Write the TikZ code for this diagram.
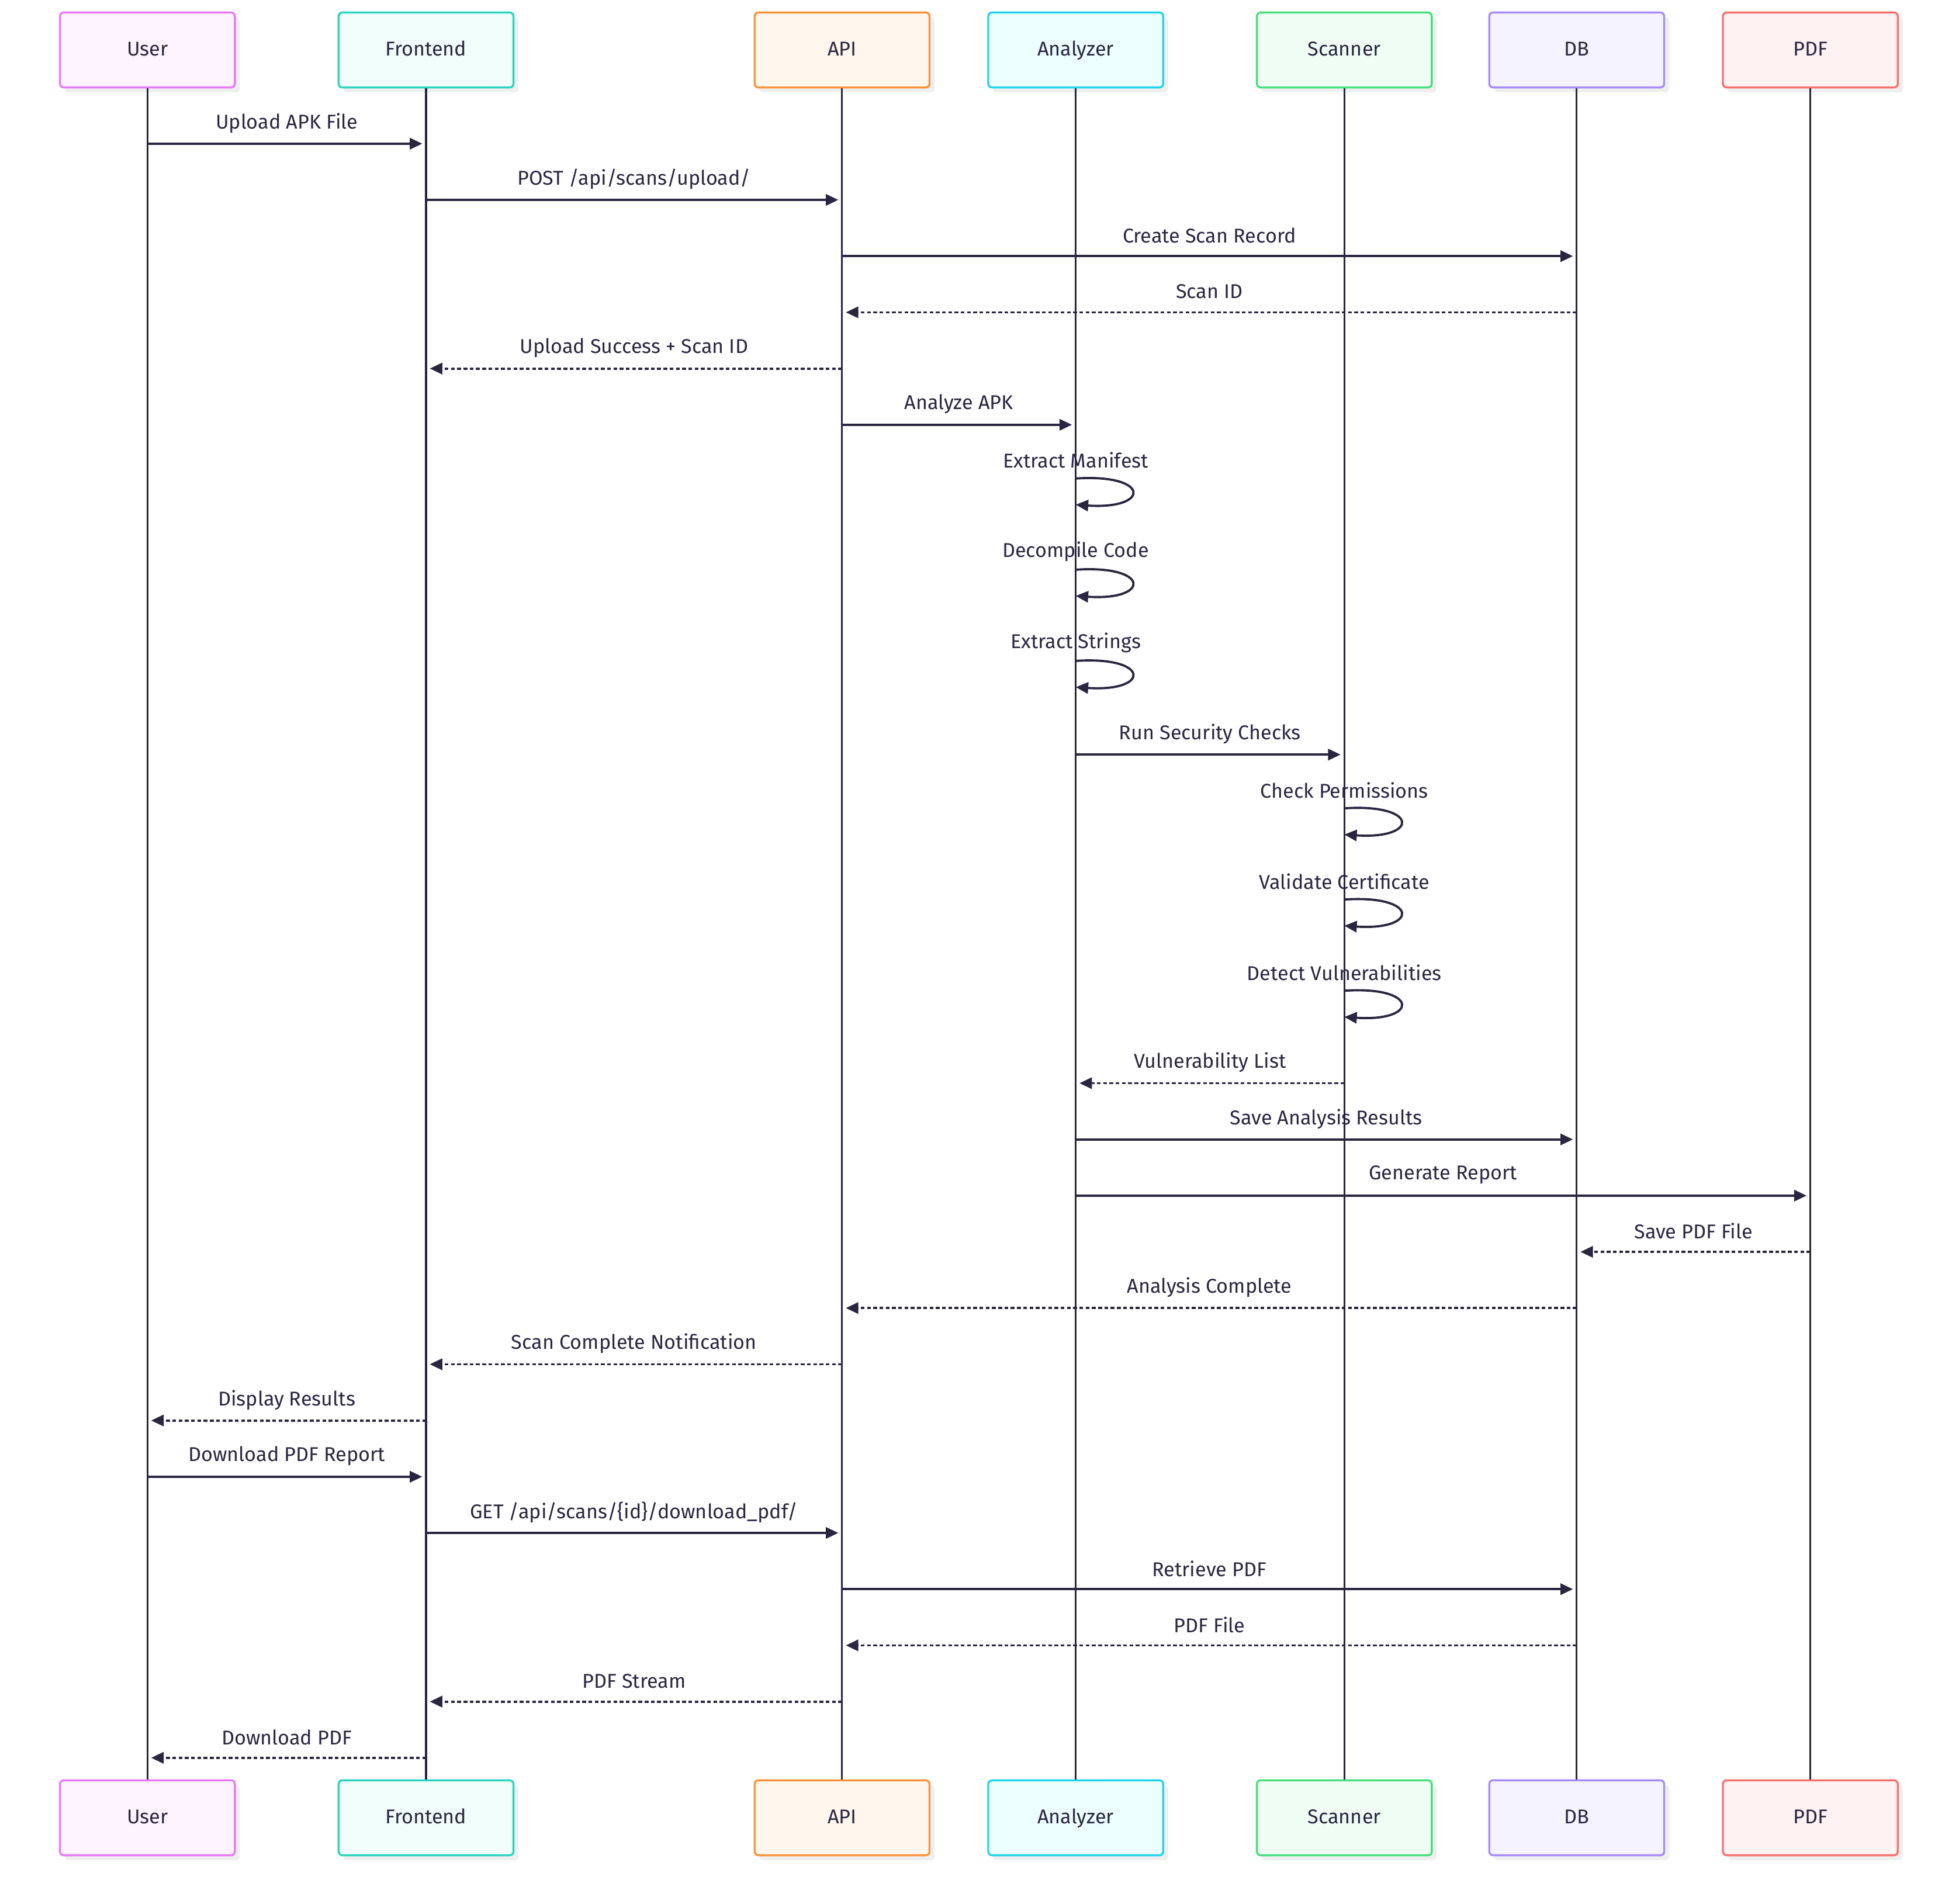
\documentclass[tikz,border=0pt]{standalone}
\usepackage{fontspec}
\setmainfont{Fira Sans}
\usetikzlibrary{arrows.meta,shadows}

\definecolor{ink}{HTML}{2A2640}
\definecolor{shade}{HTML}{EFEFEF}
\definecolor{fuchsia}{HTML}{E879F9}
\definecolor{fuchsiabg}{HTML}{FDF4FF}
\definecolor{tealb}{HTML}{2DD4BF}
\definecolor{tealbg}{HTML}{F0FDFA}
\definecolor{orangeb}{HTML}{FB923C}
\definecolor{orangebg}{HTML}{FFF7ED}
\definecolor{cyanb}{HTML}{22D3EE}
\definecolor{cyanbg}{HTML}{ECFEFF}
\definecolor{greenb}{HTML}{4ADE80}
\definecolor{greenbg}{HTML}{F0FDF4}
\definecolor{violetb}{HTML}{A78BFA}
\definecolor{violetbg}{HTML}{F5F3FF}
\definecolor{redb}{HTML}{F87171}
\definecolor{redbg}{HTML}{FEF2F2}

\tikzset{
  actor/.style={draw, rounded corners=3pt, line width=1.6pt, minimum width=140pt,
    minimum height=60pt, text=ink, font=\fontsize{16}{19}\selectfont,
    text height=11pt, text depth=2pt,
    drop shadow={shadow xshift=4pt, shadow yshift=-4pt, fill=shade, opacity=1}},
  life/.style={ink, line width=1.5pt},
  msg/.style={ink, line width=1.8pt, -{Triangle[length=10pt,width=9pt]}, shorten >=3pt},
  reply/.style={msg, dash pattern=on 3pt off 2pt},
  selfmsg/.style={ink, line width=1.8pt, -{Triangle[length=10pt,width=9pt]}},
  lbl/.style={text=ink, font=\fontsize{16}{19}\selectfont, yshift=16.5pt}
}

\begin{document}
\begin{tikzpicture}[x=1pt, y=-1pt]
\useasboundingbox (0,0) rectangle (1568,1524);
% participants (top)
\node[actor, draw=fuchsia, fill=fuchsiabg] (user) at (118,40) {User};
\node[actor, draw=tealb, fill=tealbg] (front) at (341,40) {Frontend};
\node[actor, draw=orangeb, fill=orangebg] (api) at (674,40) {API};
\node[actor, draw=cyanb, fill=cyanbg] (ana) at (861,40) {Analyzer};
\node[actor, draw=greenb, fill=greenbg] (scan) at (1076,40) {Scanner};
\node[actor, draw=violetb, fill=violetbg] (db) at (1262,40) {DB};
\node[actor, draw=redb, fill=redbg] (pdf) at (1449,40) {PDF};
% participants (bottom)
\node[actor, draw=fuchsia, fill=fuchsiabg] (userb) at (118,1455) {User};
\node[actor, draw=tealb, fill=tealbg] (frontb) at (341,1455) {Frontend};
\node[actor, draw=orangeb, fill=orangebg] (apib) at (674,1455) {API};
\node[actor, draw=cyanb, fill=cyanbg] (anab) at (861,1455) {Analyzer};
\node[actor, draw=greenb, fill=greenbg] (scanb) at (1076,1455) {Scanner};
\node[actor, draw=violetb, fill=violetbg] (dbb) at (1262,1455) {DB};
\node[actor, draw=redb, fill=redbg] (pdfb) at (1449,1455) {PDF};
% lifelines
\draw[life] (user) -- (userb);
\draw[life] (front) -- (frontb);
\draw[life] (api) -- (apib);
\draw[life] (ana) -- (anab);
\draw[life] (scan) -- (scanb);
\draw[life] (db) -- (dbb);
\draw[life] (pdf) -- (pdfb);
% upload
\draw[msg] (user |- 0,115) -- node[lbl] (m1) {Upload APK File} (front |- 0,115);
\draw[msg] (front |- 0,160) -- node[lbl] (m2) {POST /api/scans/upload/} (api |- 0,160);
\draw[msg] (api |- 0,205) -- node[lbl] (m3) {Create Scan Record} (db |- 0,205);
\draw[reply] (db |- 0,250) -- node[lbl] (m4) {Scan ID} (api |- 0,250);
\draw[reply] (api |- 0,295) -- node[lbl] (m5) {Upload Success + Scan ID} (front |- 0,295);
\draw[msg] (api |- 0,340) -- node[lbl] (m6) {Analyze APK} (ana |- 0,340);
% analyzer steps
\draw[selfmsg] (ana |- 0,383) .. controls +(60,-4) and +(60,4) .. (ana |- 0,404);
\node[lbl] (m7) at (ana |- 0,385) {Extract Manifest};
\draw[selfmsg] (ana |- 0,456) .. controls +(60,-4) and +(60,4) .. (ana |- 0,477);
\node[lbl] (m8) at (ana |- 0,458) {Decompile Code};
\draw[selfmsg] (ana |- 0,529) .. controls +(60,-4) and +(60,4) .. (ana |- 0,550);
\node[lbl] (m9) at (ana |- 0,531) {Extract Strings};
\draw[msg] (ana |- 0,604) -- node[lbl] (m10) {Run Security Checks} (scan |- 0,604);
% scanner steps
\draw[selfmsg] (scan |- 0,647) .. controls +(60,-4) and +(60,4) .. (scan |- 0,668);
\node[lbl] (m11) at (scan |- 0,649) {Check Permissions};
\draw[selfmsg] (scan |- 0,720) .. controls +(60,-4) and +(60,4) .. (scan |- 0,741);
\node[lbl] (m12) at (scan |- 0,722) {Validate Certificate};
\draw[selfmsg] (scan |- 0,793) .. controls +(60,-4) and +(60,4) .. (scan |- 0,814);
\node[lbl] (m13) at (scan |- 0,795) {Detect Vulnerabilities};
\draw[reply] (scan |- 0,867) -- node[lbl] (m14) {Vulnerability List} (ana |- 0,867);
% results and report
\draw[msg] (ana |- 0,912) -- node[lbl] (m15) {Save Analysis Results} (db |- 0,912);
\draw[msg] (ana |- 0,957) -- node[lbl] (m16) {Generate Report} (pdf |- 0,957);
\draw[reply] (pdf |- 0,1002) -- node[lbl] (m17) {Save PDF File} (db |- 0,1002);
\draw[reply] (db |- 0,1047) -- node[lbl] (m18) {Analysis Complete} (api |- 0,1047);
\draw[reply] (api |- 0,1092) -- node[lbl] (m19) {Scan Complete Notification} (front |- 0,1092);
\draw[reply] (front |- 0,1137) -- node[lbl] (m20) {Display Results} (user |- 0,1137);
% download
\draw[msg] (user |- 0,1182) -- node[lbl] (m21) {Download PDF Report} (front |- 0,1182);
\draw[msg] (front |- 0,1227) -- node[lbl] (m22) {GET /api/scans/\{id\}/download\_pdf/} (api |- 0,1227);
\draw[msg] (api |- 0,1272) -- node[lbl] (m23) {Retrieve PDF} (db |- 0,1272);
\draw[reply] (db |- 0,1317) -- node[lbl] (m24) {PDF File} (api |- 0,1317);
\draw[reply] (api |- 0,1362) -- node[lbl] (m25) {PDF Stream} (front |- 0,1362);
\draw[reply] (front |- 0,1407) -- node[lbl] (m26) {Download PDF} (user |- 0,1407);
\end{tikzpicture}
\end{document}
